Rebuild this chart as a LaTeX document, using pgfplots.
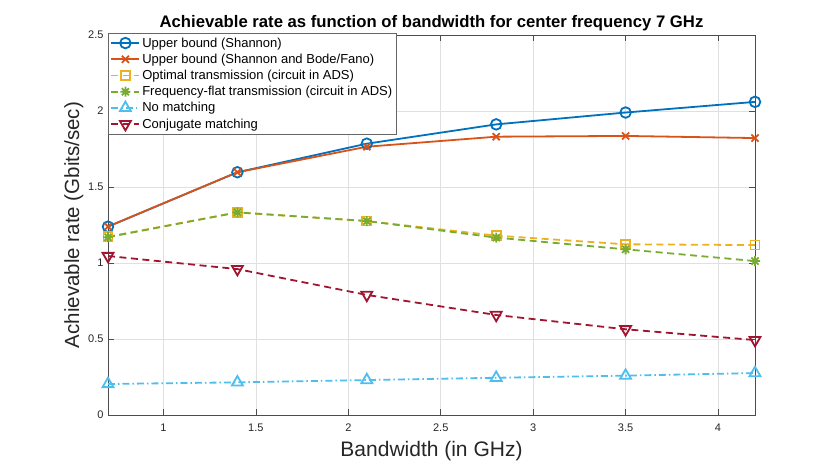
\documentclass[border=0pt]{standalone}
\usepackage{pgfplots}
\pgfplotsset{compat=1.18}
\usepackage{fontspec}
\setmainfont{Liberation Sans}

\definecolor{mblue}{rgb}{0,0.447,0.741}
\definecolor{morange}{rgb}{0.85,0.325,0.098}
\definecolor{myellow}{rgb}{0.929,0.694,0.125}
\definecolor{mgreen}{rgb}{0.466,0.674,0.188}
\definecolor{mcyan}{rgb}{0.301,0.745,0.933}
\definecolor{mred}{rgb}{0.635,0.078,0.184}

% matlab-like '*' marker (8 arms)
\pgfdeclareplotmark{mstar}{%
  \pgfpathmoveto{\pgfqpoint{\pgfplotmarksize}{0pt}}%
  \pgfpathlineto{\pgfqpoint{-\pgfplotmarksize}{0pt}}%
  \pgfpathmoveto{\pgfqpoint{0pt}{\pgfplotmarksize}}%
  \pgfpathlineto{\pgfqpoint{0pt}{-\pgfplotmarksize}}%
  \pgfpathmoveto{\pgfqpoint{0.707\pgfplotmarksize}{0.707\pgfplotmarksize}}%
  \pgfpathlineto{\pgfqpoint{-0.707\pgfplotmarksize}{-0.707\pgfplotmarksize}}%
  \pgfpathmoveto{\pgfqpoint{0.707\pgfplotmarksize}{-0.707\pgfplotmarksize}}%
  \pgfpathlineto{\pgfqpoint{-0.707\pgfplotmarksize}{0.707\pgfplotmarksize}}%
  \pgfusepathqstroke}

\begin{document}
\begin{tikzpicture}[x=1pt,y=1pt]
\path[use as bounding box] (0,0) rectangle (830,467);
\begin{axis}[
  at={(108pt,52pt)}, anchor=south west,
  scale only axis, width=647pt, height=380pt,
  xmin=0.7, xmax=4.2, ymin=0, ymax=2.5,
  xtick={1,1.5,2,2.5,3,3.5,4},
  ytick={0,0.5,1,1.5,2,2.5},
  yticklabels={0,0.5,1,1.5,2,2.5},
  xticklabels={1,1.5,2,2.5,3,3.5,4},
  tick align=inside, major tick length=6pt,
  tick style={color=black!70, line width=0.6pt},
  axis line style={color=black!70, line width=0.7pt},
  grid=major, grid style={color=black!12, line width=0.6pt},
  ticklabel style={font=\fontsize{11}{13}\selectfont, color=black!85},
  xticklabel style={yshift=-5pt},
  yticklabel style={xshift=-1pt},
  /pgf/number format/assume math mode=true,
  title={\fontsize{16.7}{19}\selectfont\bfseries Achievable rate as function of bandwidth for center frequency 7 GHz},
  title style={yshift=-5pt},
  xlabel={\fontsize{21}{24}\selectfont Bandwidth (in GHz)},
  ylabel={\fontsize{20.5}{24}\selectfont Achievable rate (Gbits/sec)},
  xlabel style={yshift=-3pt, color=black!85},
  ylabel style={yshift=-2pt, color=black!85},
  legend cell align=left,
  legend style={at={(0,1.005)}, anchor=north west, draw=black!60, line width=0.6pt,
    font=\fontsize{13}{15}\selectfont, row sep=1.3pt, inner sep=2.2pt},
  legend image code/.code={\draw[mark repeat=2,mark phase=2,#1]
    plot coordinates {(0pt,0pt)(14pt,0pt)(28pt,0pt)};},
  every axis plot/.append style={line width=1.8pt},
  mdash/.style={dash pattern=on 7pt off 4.5pt},
  mdashdot/.style={dash pattern=on 7pt off 3pt on 1.5pt off 3pt},
]
\addplot[color=mblue, solid, mark=o, mark size=5.3pt] coordinates {
 (0.7,1.239) (1.4,1.597) (2.1,1.785) (2.8,1.912) (3.5,1.99) (4.2,2.06)};
\addlegendentry{Upper bound (Shannon)}
\addplot[color=morange, solid, mark=x, mark size=5pt] coordinates {
 (0.7,1.24) (1.4,1.597) (2.1,1.765) (2.8,1.831) (3.5,1.836) (4.2,1.822)};
\addlegendentry{Upper bound (Shannon and Bode/Fano)}
\addplot[color=myellow, mdash, mark=square, mark size=4.5pt, mark options={solid}] coordinates {
 (0.7,1.173) (1.4,1.333) (2.1,1.276) (2.8,1.18) (3.5,1.123) (4.2,1.118)};
\addlegendentry{Optimal transmission (circuit in ADS)}
\addplot[color=mgreen, mdash, mark=mstar, mark size=5pt, mark options={solid}] coordinates {
 (0.7,1.17) (1.4,1.333) (2.1,1.276) (2.8,1.167) (3.5,1.09) (4.2,1.013)};
\addlegendentry{Frequency-flat transmission (circuit in ADS)}
\addplot[color=mcyan, mdashdot, mark=triangle, mark size=6.3pt, mark options={solid}] coordinates {
 (0.7,0.204) (1.4,0.215) (2.1,0.23) (2.8,0.245) (3.5,0.259) (4.2,0.276)};
\addlegendentry{No matching}
\addplot[color=mred, mdash, mark=triangle, mark size=6.3pt, mark options={solid, rotate=180}] coordinates {
 (0.7,1.046) (1.4,0.96) (2.1,0.79) (2.8,0.658) (3.5,0.564) (4.2,0.493)};
\addlegendentry{Conjugate matching}
\end{axis}
\end{tikzpicture}
\end{document}
